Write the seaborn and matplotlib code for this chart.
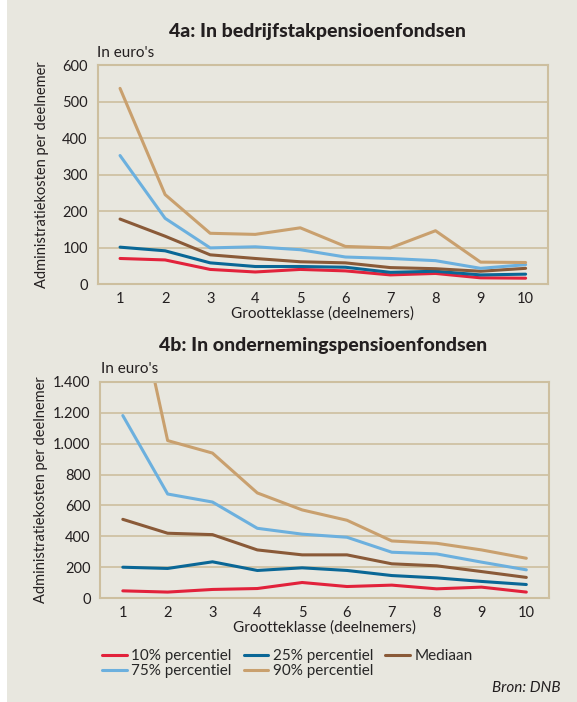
import numpy as np
import pandas as pd
import matplotlib
matplotlib.use("Agg")
import matplotlib.pyplot as plt
import seaborn as sns
from matplotlib.patches import Rectangle
from matplotlib.ticker import FuncFormatter, FixedLocator

# Grootteklasse (deelnemers)
klassen = [1, 2, 3, 4, 5, 6, 7, 8, 9, 10]
series_names = ["10% percentiel", "25% percentiel", "Mediaan", "75% percentiel", "90% percentiel"]

# 4a: bedrijfstakpensioenfondsen
bpf_p10 = [70, 66, 40, 33, 40, 36, 25, 29, 17, 16]
bpf_p25 = [101, 91, 58, 48, 48, 46, 32, 35, 25, 27]
bpf_med = [178, 131, 80, 70, 61, 58, 45, 42, 35, 43]
bpf_p75 = [352, 180, 99, 102, 94, 74, 70, 64, 43, 53]
bpf_p90 = [536, 245, 139, 136, 154, 103, 99, 146, 60, 59]

# 4b: ondernemingspensioenfondsen (90% bij klasse 1 valt buiten de as)
opf_p10 = [47, 39, 56, 62, 101, 75, 84, 60, 71, 39]
opf_p25 = [200, 192, 235, 179, 196, 179, 146, 131, 108, 88]
opf_med = [510, 420, 411, 312, 280, 280, 222, 209, 172, 134]
opf_p75 = [1182, 674, 622, 452, 414, 394, 297, 286, 233, 183]
opf_p90 = [2350, 1020, 939, 681, 571, 504, 370, 355, 312, 258]

colors = ["#e2223b", "#0a6796", "#8a5a38", "#6cb0de", "#c9a06e"]
BG = "#e8e7df"
LINE = "#cdbf9f"
TEXT = "#231f20"


def to_long(values):
    rows = []
    for name, vals in zip(series_names, values):
        for k, v in zip(klassen, vals):
            rows.append({"klasse": k, "kosten": v, "reeks": name})
    return pd.DataFrame(rows)


def dot_thousands(v, pos):
    return f"{int(v):,}".replace(",", ".")


def style_axes(ax, ymax, ystep):
    ax.set_facecolor(BG)
    ax.set_xlim(0.5, 10.5)
    ax.set_ylim(0, ymax)
    ax.set_yticks(np.arange(0, ymax + 1, ystep))
    ax.yaxis.set_major_formatter(FuncFormatter(dot_thousands))
    ax.set_xticks(klassen)
    ax.xaxis.set_minor_locator(FixedLocator(np.arange(0.5, 11, 1)))
    ax.tick_params(axis="x", which="major", length=0, pad=6, labelsize=10.5, colors=TEXT)
    ax.tick_params(axis="x", which="minor", length=4, color=LINE, width=1.2)
    ax.tick_params(axis="y", length=3, color=LINE, width=1.2, pad=4, labelsize=10.5, colors=TEXT)
    ax.grid(axis="y", color=LINE, lw=1.2)
    ax.grid(axis="x", visible=False)
    ax.set_axisbelow(True)
    for s in ax.spines.values():
        s.set_visible(True)
        s.set_color(LINE)
        s.set_linewidth(1.5)
    ax.set_xlabel("Grootteklasse (deelnemers)", fontsize=11, color=TEXT, labelpad=0)
    ax.set_ylabel("Administratiekosten per deelnemer", fontsize=10.5, color=TEXT)


sns.set_theme(style="white")
plt.rcParams["font.family"] = ["Lato", "DejaVu Sans"]

fig = plt.figure(figsize=(5.77, 7.02), dpi=100)
fig.patches.append(Rectangle((7 / 577, 0), 1, 1, transform=fig.transFigure,
                             facecolor=BG, edgecolor="none", zorder=-10))

ax1 = fig.add_axes([0.169, 0.5954, 0.781, 0.312])
ax2 = fig.add_axes([0.174, 0.148, 0.777, 0.308])

df_a = to_long([bpf_p10, bpf_p25, bpf_med, bpf_p75, bpf_p90])
df_b = to_long([opf_p10, opf_p25, opf_med, opf_p75, opf_p90])

sns.lineplot(data=df_a, x="klasse", y="kosten", hue="reeks", palette=colors,
             lw=2.2, ax=ax1, legend=False)
sns.lineplot(data=df_b, x="klasse", y="kosten", hue="reeks", palette=colors,
             lw=2.2, ax=ax2, legend=True)

style_axes(ax1, 600, 100)
style_axes(ax2, 1400, 200)
ax1.yaxis.set_label_coords(-0.108, 0.5)
ax2.yaxis.set_label_coords(-0.116, 0.5)

fig.text(0.55, 1 - 31 / 702, "4a: In bedrijfstakpensioenfondsen", ha="center", va="center",
         fontsize=14, fontweight="black", color=TEXT)
fig.text(0.56, 1 - 345 / 702, "4b: In ondernemingspensioenfondsen", ha="center", va="center",
         fontsize=14, fontweight="black", color=TEXT)
fig.text(97 / 577, 1 - 53 / 702, "In euro's", ha="left", va="center", fontsize=11, color=TEXT)
fig.text(101 / 577, 1 - 369 / 702, "In euro's", ha="left", va="center", fontsize=11, color=TEXT)

handles, labels = ax2.get_legend_handles_labels()
ax2.get_legend().remove()
order = [0, 3, 1, 4, 2]
fig.legend([handles[i] for i in order], [labels[i] for i in order],
           loc="upper left", bbox_to_anchor=(96 / 577, 1 - 643 / 702), ncol=3,
           frameon=False, fontsize=11, handlelength=1.6, handletextpad=0.3,
           columnspacing=0.8, labelspacing=0.05, borderaxespad=0)

fig.text(561 / 577, 1 - 688 / 702, "Bron: DNB", ha="right", va="center",
         fontsize=11, style="italic", color=TEXT)

fig.savefig("out.png", dpi=100, facecolor="white")
